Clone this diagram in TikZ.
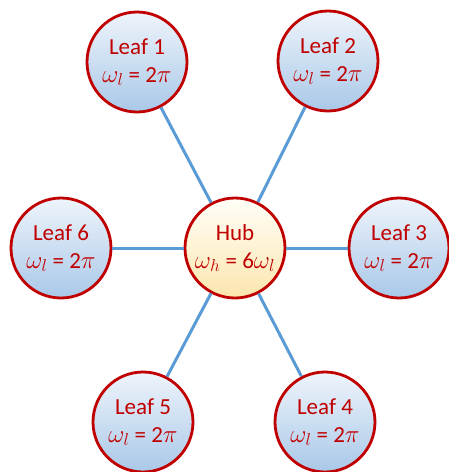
\documentclass[tikz,border=0pt]{standalone}
\usepackage{fontspec}
\setmainfont{Carlito}
\begin{document}
\begin{tikzpicture}[x=1pt,y=-1pt,
  every node/.style={font=\fontsize{23}{28}\selectfont, text=darkred, align=center},
  leaf/.style={circle, draw=darkred, line width=2.8pt, minimum size=100pt, inner sep=0pt,
    top color=leaftop, bottom color=leafbot},
  hub/.style={circle, draw=darkred, line width=2.8pt, minimum size=100pt, inner sep=0pt,
    top color=hubtop, bottom color=hubbot},
  link/.style={draw=linkblue, line width=3pt}]
\definecolor{darkred}{HTML}{C00000}
\definecolor{leaftop}{HTML}{EEF4FB}
\definecolor{leafbot}{HTML}{A9C8E8}
\definecolor{hubtop}{HTML}{FFFEF8}
\definecolor{hubbot}{HTML}{FCE6AE}
\definecolor{linkblue}{HTML}{5B9BD5}
\useasboundingbox (0,0) rectangle (448,472);
\node[hub] (hub) at (235,248) {Hub\\$\omega_h$ = 6$\omega_l$};
\node[leaf] (l1) at (137,62) {Leaf 1\\$\omega_l$ = 2$\pi$};
\node[leaf] (l2) at (328,61) {Leaf 2\\$\omega_l$ = 2$\pi$};
\node[leaf] (l3) at (399,248) {Leaf 3\\$\omega_l$ = 2$\pi$};
\node[leaf] (l4) at (325,422) {Leaf 4\\$\omega_l$ = 2$\pi$};
\node[leaf] (l5) at (143,422) {Leaf 5\\$\omega_l$ = 2$\pi$};
\node[leaf] (l6) at (61,248) {Leaf 6\\$\omega_l$ = 2$\pi$};
\foreach \n in {l1,l2,l3,l4,l5,l6} \draw[link] (hub) -- (\n);
\end{tikzpicture}
\end{document}
